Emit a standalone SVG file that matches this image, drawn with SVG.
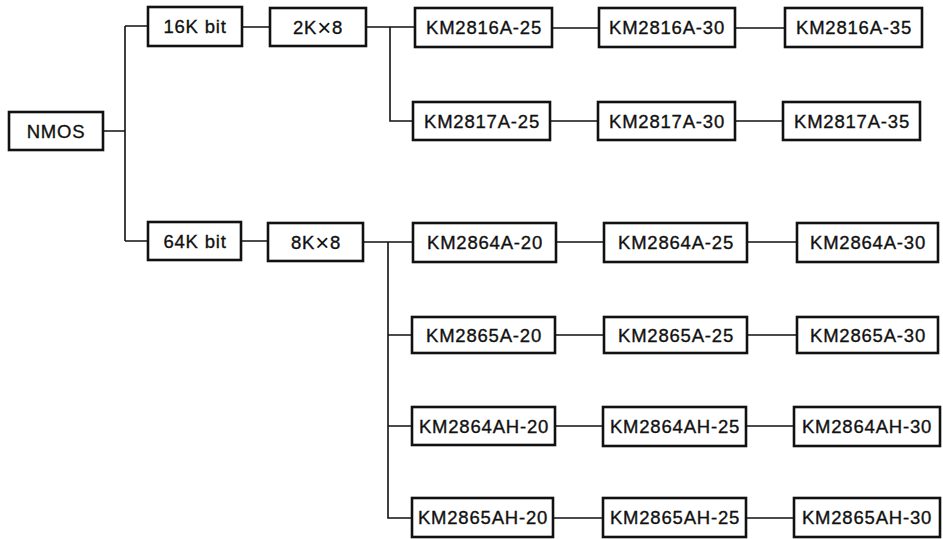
<svg xmlns="http://www.w3.org/2000/svg" width="943" height="539" viewBox="0 0 943 539">
<style>
.b{fill:#fff;stroke:#111;stroke-width:2.6}
.t{font-family:"Liberation Sans",Arial,sans-serif;font-size:18.5px;fill:#111;stroke:#111;stroke-width:0.35;text-anchor:middle;letter-spacing:0.8px}
.x{font-size:24px;stroke-width:0}
.c{fill:none;stroke:#111;stroke-width:1.6}
</style>
<rect width="943" height="539" fill="#fff"/>
<g id="connectors" class="c">
<path d="M103 131H125M125 26V241M125 26H148M125 241H148"/>
<path d="M242 27H270M366 27H415M390 27V121H413"/>
<path d="M552 28H599M735 28H785M550 121H598M735 121H783"/>
<path d="M241 241H268M363 242H413M388 242V518H412M388 335H412M388 426H412"/>
<path d="M556 242H604M747 242H797M555 335H604M747 335H797M555 426H603M746 426H794M553 518H603M746 518H794"/>
</g>
<g id="n-nmos"><rect class="b" x="9" y="112" width="94" height="38"/><text class="t" x="56" y="138">NMOS</text></g>
<g id="n-16k"><rect class="b" x="148" y="7" width="94" height="39"/><text class="t" x="195" y="33">16K bit</text></g>
<g id="n-2k"><rect class="b" x="270" y="8" width="96" height="38"/><text class="t" x="318" y="34">2K<tspan class="x" dy="1.5">×</tspan><tspan dy="-1.5">8</tspan></text></g>
<g id="n-64k"><rect class="b" x="148" y="222" width="93" height="38"/><text class="t" x="195" y="248">64K bit</text></g>
<g id="n-8k"><rect class="b" x="268" y="223" width="95" height="38"/><text class="t" x="316" y="249">8K<tspan class="x" dy="1.5">×</tspan><tspan dy="-1.5">8</tspan></text></g>
<g id="n-2816a25"><rect class="b" x="415" y="8" width="137" height="39"/><text class="t" x="484" y="34">KM2816A-25</text></g>
<g id="n-2816a30"><rect class="b" x="599" y="8" width="136" height="39"/><text class="t" x="667" y="34">KM2816A-30</text></g>
<g id="n-2816a35"><rect class="b" x="785" y="8" width="137" height="39"/><text class="t" x="854" y="34">KM2816A-35</text></g>
<g id="n-2817a25"><rect class="b" x="413" y="102" width="137" height="38"/><text class="t" x="482" y="128">KM2817A-25</text></g>
<g id="n-2817a30"><rect class="b" x="598" y="102" width="137" height="38"/><text class="t" x="667" y="128">KM2817A-30</text></g>
<g id="n-2817a35"><rect class="b" x="783" y="102" width="137" height="38"/><text class="t" x="852" y="128">KM2817A-35</text></g>
<g id="n-2864a20"><rect class="b" x="413" y="223" width="143" height="39"/><text class="t" x="485" y="249">KM2864A-20</text></g>
<g id="n-2864a25"><rect class="b" x="604" y="223" width="143" height="39"/><text class="t" x="676" y="249">KM2864A-25</text></g>
<g id="n-2864a30"><rect class="b" x="797" y="223" width="141" height="39"/><text class="t" x="868" y="249">KM2864A-30</text></g>
<g id="n-2865a20"><rect class="b" x="412" y="317" width="143" height="36"/><text class="t" x="484" y="342">KM2865A-20</text></g>
<g id="n-2865a25"><rect class="b" x="604" y="317" width="143" height="36"/><text class="t" x="676" y="342">KM2865A-25</text></g>
<g id="n-2865a30"><rect class="b" x="797" y="317" width="141" height="36"/><text class="t" x="868" y="342">KM2865A-30</text></g>
<g id="n-2864ah20"><rect class="b" x="412" y="407" width="143" height="38"/><text class="t" x="484" y="433">KM2864AH-20</text></g>
<g id="n-2864ah25"><rect class="b" x="603" y="407" width="143" height="39"/><text class="t" x="675" y="433">KM2864AH-25</text></g>
<g id="n-2864ah30"><rect class="b" x="794" y="407" width="146" height="39"/><text class="t" x="867" y="433">KM2864AH-30</text></g>
<g id="n-2865ah20"><rect class="b" x="412" y="498" width="141" height="39"/><text class="t" x="483" y="524">KM2865AH-20</text></g>
<g id="n-2865ah25"><rect class="b" x="603" y="498" width="143" height="39"/><text class="t" x="675" y="524">KM2865AH-25</text></g>
<g id="n-2865ah30"><rect class="b" x="794" y="498" width="146" height="39"/><text class="t" x="867" y="524">KM2865AH-30</text></g>
</svg>
